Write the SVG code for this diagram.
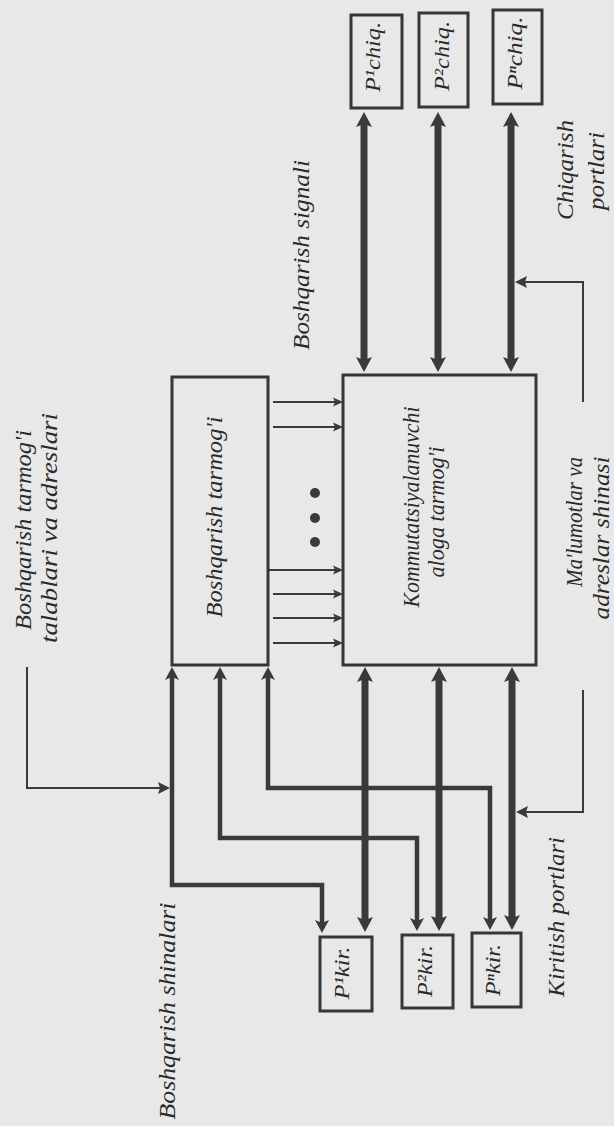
<svg xmlns="http://www.w3.org/2000/svg" width="614" height="1126" viewBox="0 0 614 1126">
<style>
.bg{fill:#e8e8e8}
.box{fill:none;stroke:#363636;stroke-width:3}
.thick{fill:none;stroke:#3a3a3a;stroke-width:7}
.route{fill:none;stroke:#3a3a3a;stroke-width:4.5;stroke-linejoin:miter}
.thin{fill:none;stroke:#3a3a3a;stroke-width:2}
.lbl{font-family:"Liberation Serif","DejaVu Serif",serif;font-style:italic;font-size:23px;fill:#2a2a2a;text-anchor:middle}
.port{font-size:21px}
.dot{fill:#3a3a3a}
</style>
<defs>
<marker id="aT" viewBox="0 -8 16 16" refX="3" refY="0" markerWidth="16" markerHeight="16" markerUnits="userSpaceOnUse" orient="auto-start-reverse"><path d="M0,-8 L15,0 L0,8 L3,0 z" fill="#3a3a3a"/></marker>
<marker id="aM" viewBox="0 -7 14 14" refX="3" refY="0" markerWidth="14" markerHeight="14" markerUnits="userSpaceOnUse" orient="auto-start-reverse"><path d="M0,-7 L13,0 L0,7 L3,0 z" fill="#3a3a3a"/></marker>
<marker id="aS" viewBox="0 -6 13 12" refX="2" refY="0" markerWidth="13" markerHeight="12" markerUnits="userSpaceOnUse" orient="auto"><path d="M0,-6 L12,0 L0,6 L2,0 z" fill="#3a3a3a"/></marker>
<marker id="aB" viewBox="0 -5 11 10" refX="2" refY="0" markerWidth="11" markerHeight="10" markerUnits="userSpaceOnUse" orient="auto"><path d="M0,-4.5 L10,0 L0,4.5 L2,0 z" fill="#3a3a3a"/></marker>
</defs>
<rect class="bg" x="0" y="0" width="614" height="1126"/>

<g id="connectors">
  <path class="thick" d="M364,124 V360" marker-start="url(#aT)" marker-end="url(#aT)"/>
  <path class="thick" d="M438,124 V360" marker-start="url(#aT)" marker-end="url(#aT)"/>
  <path class="thick" d="M511,124 V360" marker-start="url(#aT)" marker-end="url(#aT)"/>
  <path class="thick" d="M365,679 V920" marker-start="url(#aT)" marker-end="url(#aT)"/>
  <path class="thick" d="M439,679 V919" marker-start="url(#aT)" marker-end="url(#aT)"/>
  <path class="thick" d="M512,679 V918" marker-start="url(#aT)" marker-end="url(#aT)"/>
  <path class="route" d="M172,677 V885 H322 V923" marker-start="url(#aM)" marker-end="url(#aM)"/>
  <path class="route" d="M220,677 V838 H417 V921" marker-start="url(#aM)" marker-end="url(#aM)"/>
  <path class="route" d="M268,677 V788 H490 V920" marker-start="url(#aM)" marker-end="url(#aM)"/>
  <path class="thin" d="M27,667 V788 H160" marker-end="url(#aS)"/>
  <path class="thin" d="M583,402 V282 H525" marker-end="url(#aS)"/>
  <path class="thin" d="M583,690 V812 H526" marker-end="url(#aS)"/>
  <path class="thin" d="M273,402 H335" marker-end="url(#aB)"/>
  <path class="thin" d="M273,427 H335" marker-end="url(#aB)"/>
  <path class="thin" d="M268,570 H335" marker-end="url(#aB)"/>
  <path class="thin" d="M273,594 H335" marker-end="url(#aB)"/>
  <path class="thin" d="M273,618 H335" marker-end="url(#aB)"/>
  <path class="thin" d="M273,643 H335" marker-end="url(#aB)"/>
  <circle class="dot" cx="315" cy="493" r="5"/>
  <circle class="dot" cx="315" cy="518" r="5"/>
  <circle class="dot" cx="315" cy="542" r="5"/>
</g>

<g id="out1"><rect class="box" x="351" y="15" width="51" height="93"/><text class="lbl port" transform="translate(380,57) rotate(-90)" textLength="70" lengthAdjust="spacingAndGlyphs">P¹chiq.</text></g>
<g id="out2"><rect class="box" x="419" y="13" width="49" height="94"/><text class="lbl port" transform="translate(449,56) rotate(-90)" textLength="70" lengthAdjust="spacingAndGlyphs">P²chiq.</text></g>
<g id="out3"><rect class="box" x="493" y="10" width="49" height="94"/><text class="lbl port" transform="translate(522,53) rotate(-90)" textLength="73" lengthAdjust="spacingAndGlyphs">Pⁿchiq.</text></g>

<g id="in1"><rect class="box" x="320" y="937" width="52" height="74"/><text class="lbl port" transform="translate(349,973) rotate(-90)" textLength="53" lengthAdjust="spacingAndGlyphs">P¹kir.</text></g>
<g id="in2"><rect class="box" x="402" y="935" width="51" height="73"/><text class="lbl port" transform="translate(432,971) rotate(-90)" textLength="52" lengthAdjust="spacingAndGlyphs">P²kir.</text></g>
<g id="in3"><rect class="box" x="472" y="933" width="49" height="74"/><text class="lbl port" transform="translate(500,970) rotate(-90)" textLength="52" lengthAdjust="spacingAndGlyphs">Pⁿkir.</text></g>

<g id="boshqarish-tarmogi"><rect class="box" x="172" y="377" width="96" height="288"/><text class="lbl" transform="translate(222,517) rotate(-90)" textLength="201" lengthAdjust="spacingAndGlyphs">Boshqarish tarmog'i</text></g>

<g id="kommutatsiya"><rect class="box" x="343" y="375" width="193" height="290"/>
<text class="lbl" transform="translate(419,507) rotate(-90)" textLength="201" lengthAdjust="spacingAndGlyphs">Kommutatsiyalanuvchi</text>
<text class="lbl" transform="translate(444,512) rotate(-90)" textLength="131" lengthAdjust="spacingAndGlyphs">aloga tarmog'i</text></g>

<g id="labels">
<text class="lbl" transform="translate(309,255) rotate(-90)" textLength="190" lengthAdjust="spacingAndGlyphs">Boshqarish signali</text>
<text class="lbl" transform="translate(573,170) rotate(-90)" textLength="100" lengthAdjust="spacingAndGlyphs">Chiqarish</text>
<text class="lbl" transform="translate(604,171) rotate(-90)" textLength="78" lengthAdjust="spacingAndGlyphs">portlari</text>
<text class="lbl" transform="translate(31,530) rotate(-90)" textLength="200" lengthAdjust="spacingAndGlyphs">Boshqarish tarmog'i</text>
<text class="lbl" transform="translate(57,528) rotate(-90)" textLength="230" lengthAdjust="spacingAndGlyphs">talablari va adreslari</text>
<text class="lbl" transform="translate(582,522) rotate(-90)" textLength="130" lengthAdjust="spacingAndGlyphs">Ma'lumotlar va</text>
<text class="lbl" transform="translate(609,538) rotate(-90)" textLength="163" lengthAdjust="spacingAndGlyphs">adreslar shinasi</text>
<text class="lbl" transform="translate(564,917) rotate(-90)" textLength="160" lengthAdjust="spacingAndGlyphs">Kiritish portlari</text>
<text class="lbl" transform="translate(175,1011) rotate(-90)" textLength="217" lengthAdjust="spacingAndGlyphs">Boshqarish shinalari</text>
</g>
</svg>
